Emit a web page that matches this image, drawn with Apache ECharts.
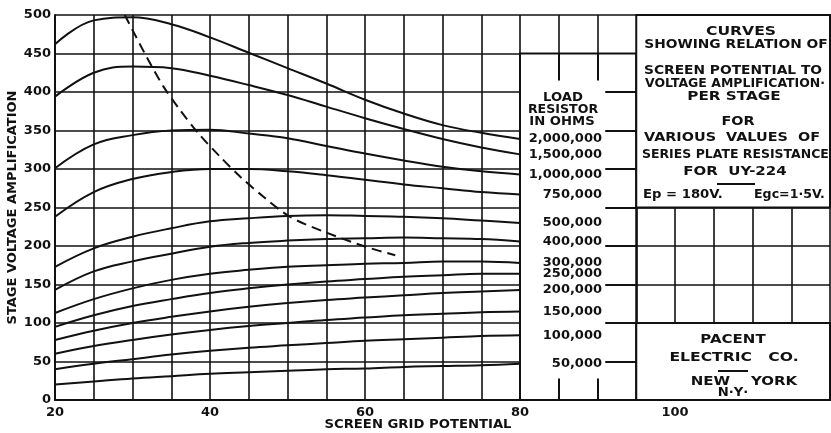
<!DOCTYPE html>
<html>
<head>
<meta charset="utf-8">
<script src="https://cdn.jsdelivr.net/npm/echarts@6/dist/echarts.min.js"></script>
<style>
  html, body { margin: 0; padding: 0; background: #fff; }
  #chart { width: 831px; height: 433px; }
</style>
</head>
<body>
<div id="chart"></div>
<script>
// screen grid potential (x) sample points
const gridPotential = [20, 25, 30, 35, 40, 45, 50, 55, 60, 65, 70, 75, 80];

// load resistor values, top curve first
const loadNames = ['2,000,000', '1,500,000', '1,000,000', '750,000', '500,000', '400,000',
  '300,000', '250,000', '200,000', '150,000', '100,000', '50,000'];

// stage voltage amplification
const amp2000k = [462, 493, 497, 488, 471, 451, 431, 411, 390, 372, 357, 347, 339];
const amp1500k = [394, 425, 433, 431, 421, 409, 396, 381, 366, 352, 339, 328, 319];
const amp1000k = [301, 332, 344, 350, 351, 346, 340, 330, 320, 311, 303, 297, 293];
const amp750k = [238, 270, 287, 296, 300, 300, 297, 292, 286, 280, 275, 270, 267];
const amp500k = [173, 197, 212, 223, 232, 236, 239, 240, 239, 238, 236, 233, 230];
const amp400k = [143, 167, 180, 190, 199, 204, 207, 209, 210, 211, 210, 209, 206];
const amp300k = [113, 131, 145, 156, 164, 169, 173, 175, 177, 178, 180, 180, 178];
const amp250k = [95, 110, 122, 131, 139, 145, 150, 154, 157, 160, 162, 164, 164];
const amp200k = [78, 90, 100, 108, 115, 121, 126, 130, 133, 136, 139, 141, 143];
const amp150k = [60, 70, 78, 85, 91, 96, 100, 104, 107, 110, 112, 114, 115];
const amp100k = [40, 47, 53, 59, 64, 68, 71, 74, 77, 79, 81, 83, 84];
const amp50k = [20, 24, 28, 31, 34, 36, 38, 40, 41, 43, 44, 45, 47];

// dashed locus
const dashX = [29.0, 31.8, 34.0, 36.1, 38.7, 41.3, 43.9, 46.9, 50.3, 54.6, 60.1, 63.9];
const dashY = [500, 446, 407, 377, 344, 316, 290, 264, 238, 219, 199, 188];

// axis ticks
const xLabels = [20, 40, 60, 80, 100];

const curves = [amp2000k, amp1500k, amp1000k, amp750k, amp500k, amp400k,
  amp300k, amp250k, amp200k, amp150k, amp100k, amp50k];

const INK = '#111';
const FONT = 'DejaVu Sans';

const chart = echarts.init(document.getElementById('chart'));

const curveSeries = curves.map((vals, i) => ({
  name: loadNames[i],
  type: 'line',
  smooth: 0.4,
  symbol: 'none',
  z: 2,
  lineStyle: { color: INK, width: 2 },
  data: vals.map((v, j) => [gridPotential[j], v]),
  endLabel: {
    show: true,
    formatter: '{a}',
    distance: 0,
    offset: [82, 0],
    align: 'right',
    verticalAlign: 'middle',
    color: INK,
    fontFamily: FONT,
    fontWeight: 'bold',
    fontSize: 13,
  },
}));

// plain text on the page, sx widens the letters like the old lettering
const txt = (text, x, y, sx, align) => ({
  type: 'text',
  x: x,
  y: y,
  scaleX: sx || 1,
  silent: true,
  z: 10,
  style: {
    text: text,
    fill: INK,
    font: 'bold 12px "' + FONT + '"',
    align: align || 'center',
    verticalAlign: 'middle',
  },
});

const rule = (x1, x2, y) => ({
  type: 'line',
  silent: true,
  z: 10,
  shape: { x1: x1, y1: y, x2: x2, y2: y },
  style: { stroke: INK, lineWidth: 2 },
});

const seg = (a, b) => [{ coord: a }, { coord: b }];
const colTicks = [400, 350, 300, 250, 200, 150, 100, 50].map(y => seg([91, y], [95, y]));

chart.setOption({
  animation: false,
  backgroundColor: '#fff',
  grid: { left: 55, top: 15, width: 775, height: 385, outerBoundsMode: 'none', containLabel: false },
  xAxis: {
    type: 'value',
    min: 20,
    max: 120,
    interval: 5,
    axisLine: { show: true, lineStyle: { color: INK, width: 2 } },
    axisTick: { show: false },
    splitLine: { show: true, lineStyle: { color: INK, width: 1.6 } },
    axisLabel: {
      margin: 6,
      color: INK,
      fontFamily: FONT,
      fontWeight: 'bold',
      fontSize: 13,
      formatter: v => (xLabels.indexOf(v) >= 0 ? String(v) : ''),
    },
  },
  yAxis: {
    type: 'value',
    min: 0,
    max: 500,
    interval: 50,
    name: 'STAGE VOLTAGE AMPLIFICATION',
    nameLocation: 'middle',
    nameGap: 36,
    nameRotate: 90,
    nameMoveOverlap: false,
    nameTextStyle: { color: INK, fontFamily: FONT, fontWeight: 'bold', fontSize: 13 },
    axisLine: { show: true, lineStyle: { color: INK, width: 2 } },
    axisTick: { show: false },
    splitLine: { show: true, lineStyle: { color: INK, width: 1.6 } },
    axisLabel: { margin: 4, color: INK, fontFamily: FONT, fontWeight: 'bold', fontSize: 13 },
  },
  series: [
    {
      name: 'frame',
      type: 'line',
      data: [],
      z: 1,
      silent: true,
      markArea: {
        silent: true,
        label: { show: false },
        itemStyle: { color: '#fff', opacity: 1, borderColor: INK, borderWidth: 2 },
        data: [
          seg([80, 0], [95, 450]),
          seg([95, 250], [120, 500]),
          seg([95, 0], [120, 100]),
        ],
      },
    },
    {
      name: 'frameLines',
      type: 'line',
      data: [],
      z: 3,
      silent: true,
      markLine: {
        silent: true,
        symbol: 'none',
        label: { show: false },
        lineStyle: { color: INK, width: 2, type: 'solid' },
        data: [
          seg([85, 450], [85, 415]),
          seg([90, 450], [90, 415]),
          seg([85, 0], [85, 28]),
          seg([90, 0], [90, 28]),
        ].concat(colTicks),
      },
    },
    {
      name: 'locus',
      type: 'line',
      symbol: 'none',
      smooth: 0.3,
      z: 2,
      lineStyle: { color: INK, width: 2, type: [10, 6] },
      data: dashX.map((x, i) => [x, dashY[i]]),
    },
  ].concat(curveSeries),
  graphic: [
    txt('SCREEN GRID POTENTIAL', 418, 425, 1.1),
    txt('LOAD', 563, 98, 1.1),
    txt('RESISTOR', 563, 110, 1.05),
    txt('IN OHMS', 562, 122, 1.1),
    txt('CURVES', 741, 32, 1.3),
    txt('SHOWING RELATION OF', 736, 45, 1.15),
    txt('SCREEN POTENTIAL TO', 733, 71, 1.15),
    txt('VOLTAGE AMPLIFICATION·', 735, 84, 1.04),
    txt('PER STAGE', 734, 97, 1.27),
    txt('FOR', 738, 122, 1.2),
    txt('VARIOUS  VALUES  OF', 732, 138, 1.2),
    txt('SERIES PLATE RESISTANCE', 642, 155, 1.04, 'left'),
    txt('FOR  UY-224', 735, 172, 1.25),
    rule(717, 755, 184),
    txt('Ep = 180V.', 643, 195, 1.1, 'left'),
    txt('Egc=1·5V.', 754, 195, 1.05, 'left'),
    txt('PACENT', 733, 340, 1.25),
    txt('ELECTRIC   CO.', 734, 358, 1.3),
    rule(718, 748, 371),
    txt('NEW    YORK', 744, 382, 1.25),
    txt('N·Y·', 733, 393, 1.1),
  ],
});
</script>
</body>
</html>
